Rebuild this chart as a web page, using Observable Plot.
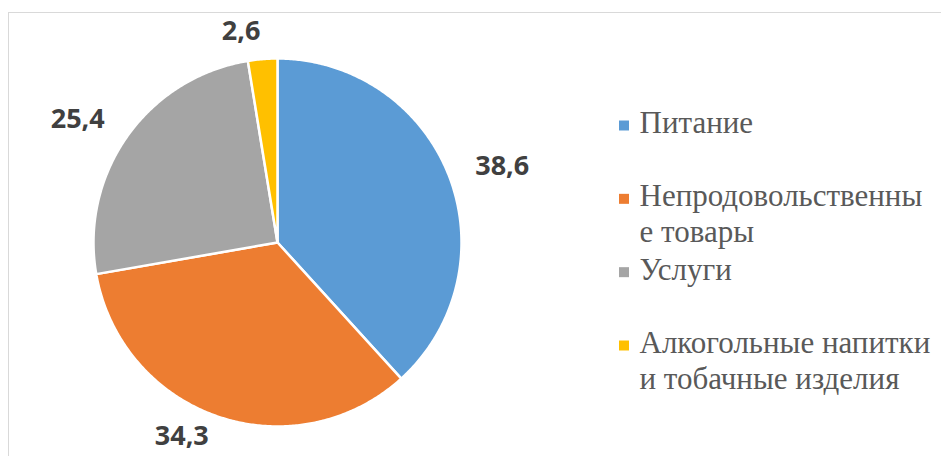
<!DOCTYPE html>
<html>
<head>
<meta charset="utf-8">
<script src="https://cdn.jsdelivr.net/npm/d3@7"></script>
<script src="https://cdn.jsdelivr.net/npm/@observablehq/plot@0.6"></script>
<style>
  html, body { margin: 0; padding: 0; background: #fff; }
  #wrap { position: relative; width: 941px; height: 456px; overflow: hidden; }
  #chart { position: absolute; left: 0; top: 0; }
  #legend { position: absolute; left: 618px; top: 0; }
  #frame { position: absolute; left: 8px; top: 12px; width: 1200px; height: 1200px; border: 1px solid #d9d9d9; pointer-events: none; }
</style>
</head>
<body>
<div id="wrap">
  <div id="chart"></div>
  <div id="legend"></div>
  <div id="frame"></div>
</div>
<script>
const categories = ["Питание", "Непродовольственные товары", "Услуги", "Алкогольные напитки и тобачные изделия"];
const values = [38.6, 34.3, 25.4, 2.6];
const legendLabels = ["Питание", "Непродовольственны\nе товары", "Услуги", "Алкогольные напитки\nи тобачные изделия"];
const colors = ["#5B9BD5", "#ED7D31", "#A5A5A5", "#FFC000"];

const rows = categories.map((c, i) => ({cat: c, value: values[i]}));
const arcs = d3.pie().sort(null).value(d => d.value)(rows);

// polygon points for each slice (unit circle, y up)
const points = [];
for (const a of arcs) {
  points.push({cat: a.data.cat, x: 0, y: 0});
  const n = Math.max(2, Math.ceil((a.endAngle - a.startAngle) / (Math.PI / 360)));
  for (let k = 0; k <= n; k++) {
    const t = a.startAngle + (a.endAngle - a.startAngle) * k / n;
    points.push({cat: a.data.cat, x: Math.sin(t), y: Math.cos(t)});
  }
}

const labelR = 1.152;
const labels = arcs.map(a => {
  const m = (a.startAngle + a.endAngle) / 2;
  return {
    x: Math.sin(m) * labelR,
    y: Math.max(-1.055, Math.cos(m) * labelR),
    right: Math.sin(m) > 0,
    text: a.data.value.toFixed(1).replace(".", ",")
  };
});

const textOpts = {x: "x", y: "y", text: "text", fontSize: 27, fontWeight: "bold", fontFamily: "Open Sans, sans-serif", fill: "#404040"};

const chart = Plot.plot({
  width: 941,
  height: 456,
  margin: 0,
  style: {background: "transparent"},
  x: {domain: [-1, 1], range: [93, 461], axis: null},
  y: {domain: [-1, 1], range: [426, 58], axis: null},
  color: {domain: categories, range: colors},
  marks: [
    Plot.line(points, {x: "x", y: "y", z: "cat", fill: "cat", stroke: "white", strokeWidth: 2.5, curve: "linear-closed"}),
    Plot.text(labels.filter(d => d.right), {...textOpts, textAnchor: "start"}),
    Plot.text(labels.filter(d => !d.right), {...textOpts, textAnchor: "end"})
  ]
});
document.getElementById("chart").appendChild(chart);

// legend drawn as a second small Plot
const legendRows = legendLabels.map((l, i) => ({i, label: l, cat: categories[i]}));
const legendPlot = Plot.plot({
  width: 323,
  height: 456,
  margin: 0,
  style: {background: "transparent"},
  x: {axis: null},
  y: {domain: [0, 3], range: [125, 345], axis: null},
  color: {domain: categories, range: colors},
  marks: [
    Plot.dot(legendRows, {y: "i", fill: "cat", symbol: "square", r: 5.64, frameAnchor: "left", dx: 5.5}),
    Plot.text(legendRows, {y: "i", text: "label", frameAnchor: "left", dx: 21, dy: -18, textAnchor: "start", lineAnchor: "top", lineHeight: 36 / 31, fontSize: 31, fontFamily: "'Liberation Serif', 'Times New Roman', serif", fill: "#595959"})
  ]
});
document.getElementById("legend").appendChild(legendPlot);
</script>
</body>
</html>
